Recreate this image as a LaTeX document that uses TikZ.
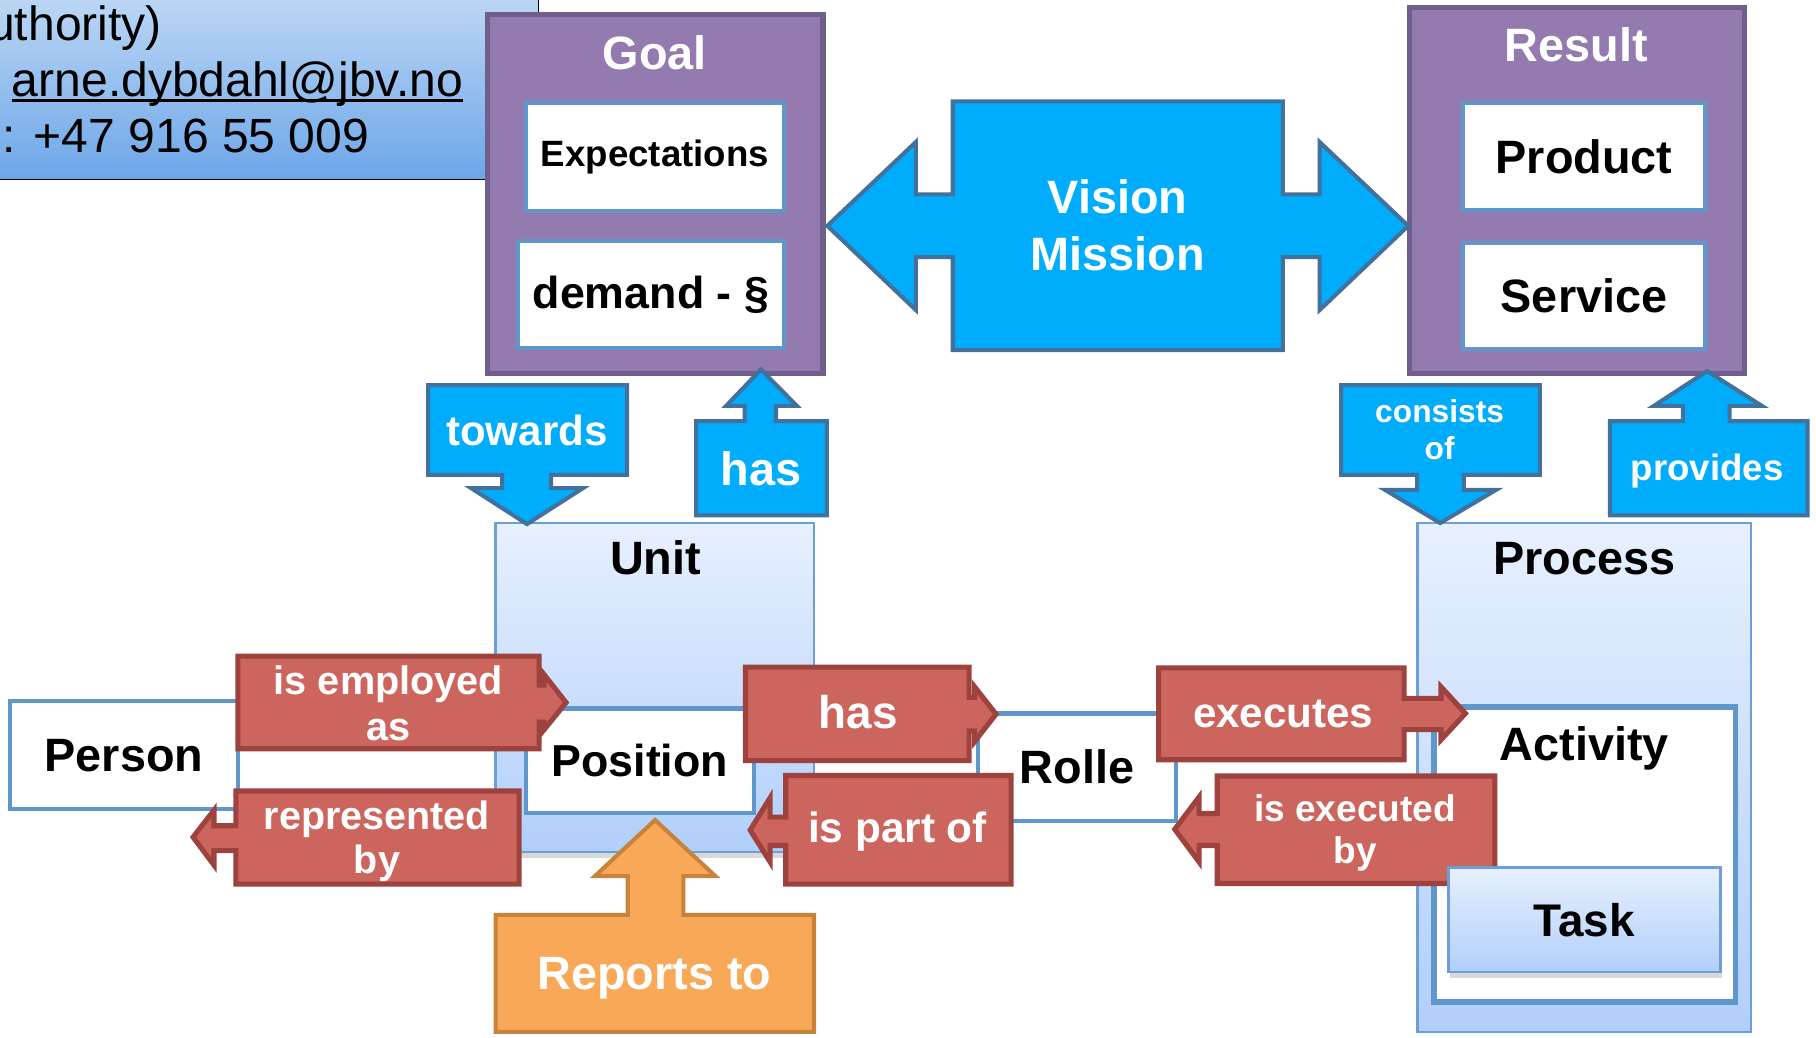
\documentclass[tikz,border=0pt]{standalone}
\usepackage{fontspec}
\setmainfont{Liberation Sans}
\usetikzlibrary{shadows}

\definecolor{infotop}{RGB}{192,217,245}
\definecolor{infobot}{RGB}{108,166,232}
\definecolor{goalfill}{RGB}{147,123,176}
\definecolor{goalborder}{RGB}{112,94,140}
\definecolor{boxborder}{RGB}{95,150,204}
\definecolor{lighttop}{RGB}{231,240,254}
\definecolor{lightbot}{RGB}{177,207,251}
\definecolor{lightborder}{RGB}{110,158,214}
\definecolor{cyanfill}{RGB}{0,172,252}
\definecolor{cyanborder}{RGB}{65,113,156}
\definecolor{redfill}{RGB}{205,101,95}
\definecolor{redborder}{RGB}{158,66,62}
\definecolor{orangefill}{RGB}{249,168,87}
\definecolor{orangeborder}{RGB}{199,130,62}

\tikzset{
	every node/.style={
		inner sep=0pt,
		font=\bfseries\fontsize{23}{28}\selectfont
	},
	infotext/.style={
		font=\fontsize{23.6}{28}\selectfont
	},
	purplebox/.style={
		draw=goalborder,
		fill=goalfill,
		line width=2.5pt
	},
	whitebox/.style={
		draw=boxborder,
		fill=white,
		line width=2pt
	},
	lightbox/.style={
		draw=lightborder,
		top color=lighttop,
		bottom color=lightbot,
		line width=1.2pt
	},
	bluearrow/.style={
		draw=cyanborder,
		fill=cyanfill,
		line width=2pt
	},
	redarrow/.style={
		draw=redborder,
		fill=redfill,
		line width=2.5pt
	},
	orangearrow/.style={
		draw=orangeborder,
		fill=orangefill,
		line width=2pt
	},
	whitelabel/.style={
		text=white,
		align=center
	}
}

\begin{document}
\begin{tikzpicture}[x=0.02cm, y=-0.02cm]
	\useasboundingbox (0,0) rectangle (1568,896);
	\clip (0,0) rectangle (1568,896);
	
	% contact box
	\shade[top color=infotop, bottom color=infobot] (-10,-10) rectangle (465,155);
	\draw[black, line width=0.8pt] (-10,155) -- (465,155) -- (465,-10);
	\node[infotext, anchor=base east] (authority) at (140,35) {uthority)};
	\node[infotext, anchor=base west] (email) at (10,83.2) {arne.dybdahl@jbv.no};
	\draw[line width=1.1pt] ([yshift=-2pt]email.base west) -- ([yshift=-2pt]email.base east);
	\node[infotext, anchor=base west] (phone) at (-21,131.4) {n: +47 916 55 009};
	
	% goal
	\node[purplebox, minimum width=5.80cm, minimum height=6.21cm] (goal) at (565.6,167.5) {};
	\node[whitelabel, anchor=base] (goallabel) at (565.5,59.8) {Goal};
	\node[whitebox, minimum width=4.46cm, minimum height=1.86cm, font=\bfseries\fontsize{18}{22}\selectfont] (expect) at (565.5,135.5) {Expectations};
	\node[whitebox, minimum width=4.60cm, minimum height=1.85cm, font=\bfseries\fontsize{22}{26}\selectfont] (demand) at (562,254.3) {demand - §};
	
	% result
	\node[purplebox, minimum width=5.78cm, minimum height=6.32cm] (result) at (1361.5,164.5) {};
	\node[whitelabel, anchor=base] (resultlabel) at (1361,53.4) {Result};
	\node[whitebox, minimum width=4.19cm, minimum height=1.84cm] (product) at (1367.7,135) {Product};
	\node[whitebox, minimum width=4.19cm, minimum height=1.84cm] (service) at (1367.7,255.5) {Service};
	
	% vision and mission, pointing both ways
	\draw[bluearrow] (822.6,87.6) -- (1107.6,87.6) -- (1107.6,167.9) -- (1139.4,167.9) -- (1139.4,122.6)
		-- (1215.9,195) -- (1139.4,267.7) -- (1139.4,222) -- (1107.6,222) -- (1107.6,302.2)
		-- (822.6,302.2) -- (822.6,222) -- (790.8,222) -- (790.8,267.7) -- (714.3,195)
		-- (790.8,122.6) -- (790.8,167.9) -- (822.6,167.9) -- cycle;
	\node[whitelabel, font=\bfseries\fontsize{23}{27.9}\selectfont] (vision) at (965,194.5) {Vision\\Mission};
	
	% unit and process
	\node[lightbox, drop shadow={shadow xshift=0pt, shadow yshift=-3pt, opacity=.3}, minimum width=5.50cm, minimum height=5.69cm] (unit) at (565.4,593.6) {};
	\node[anchor=base] (unitlabel) at (566,496) {Unit};
	\node[whitebox, minimum width=3.94cm, minimum height=1.86cm] (person) at (107,652) {Person};
	\node[whitebox, minimum width=3.93cm, minimum height=1.80cm, font=\bfseries\fontsize{22}{26}\selectfont] (position) at (552.4,656.7) {Position};
	\node[whitebox, minimum width=3.42cm, minimum height=1.85cm] (rolle) at (930,662.3) {Rolle};
	\node[lightbox, minimum width=5.76cm, minimum height=8.79cm] (process) at (1368,671.2) {};
	\node[anchor=base] (processlabel) at (1368,496) {Process};
	\node[whitebox, line width=2.8pt, minimum width=5.21cm, minimum height=5.10cm] (activity) at (1368.3,737.9) {};
	\node[anchor=base] (activitylabel) at (1368,656.7) {Activity};
	
	% blue arrows
	\draw[bluearrow] (369.6,332.5) -- (541.5,332.5) -- (541.5,410) -- (475.8,410) -- (475.8,421.4) -- (503.5,421.4)
		-- (455,452.5) -- (406.7,421.4) -- (433.5,421.4) -- (433.5,410) -- (369.6,410) -- cycle;
	\node[whitelabel, anchor=base, font=\bfseries\fontsize{20.7}{25}\selectfont] (towards) at (455,385) {towards};
	\draw[bluearrow] (601,445) -- (714,445) -- (714,363.6) -- (670,363.6) -- (670,350.4) -- (688,350.4)
		-- (657,319) -- (627,350.4) -- (643,350.4) -- (643,363.6) -- (601,363.6) -- cycle;
	\node[whitelabel, anchor=base] (hasgoal) at (657,419) {has};
	\draw[bluearrow] (1158,332.5) -- (1329.5,332.5) -- (1329.5,410) -- (1263.9,410) -- (1263.9,423) -- (1291.7,423)
		-- (1243.5,451.6) -- (1195.9,423) -- (1223.6,423) -- (1223.6,410) -- (1158,410) -- cycle;
	\node[whitelabel, font=\bfseries\fontsize{15.6}{18.2}\selectfont] (consists) at (1243,371.2) {consists\\of};
	\draw[bluearrow] (1390,445) -- (1560.7,445) -- (1560.7,363.6) -- (1493.4,363.6) -- (1493.4,350.4) -- (1521.2,350.4)
		-- (1474,320.4) -- (1428,350.4) -- (1453,350.4) -- (1453,363.6) -- (1390,363.6) -- cycle;
	\node[whitelabel, anchor=base, font=\bfseries\fontsize{18}{22}\selectfont] (provides) at (1474,414.5) {provides};
	
	% red arrows
	\draw[redarrow] (205.4,566.5) -- (465.5,566.5) -- (465.5,591.5) -- (469.8,591.5) -- (469.8,582.5)
		-- (488.8,606.6) -- (469.8,630) -- (469.8,623.5) -- (465.5,623.5) -- (465.5,646.5) -- (205.4,646.5) -- cycle;
	\node[whitelabel, font=\bfseries\fontsize{19.5}{22.2}\selectfont] (employed) at (335.5,607.2) {is employed\\as};
	\draw[redarrow] (448.2,683) -- (203.6,683) -- (203.6,713) -- (184.8,713) -- (184.8,699.5)
		-- (166.7,722.8) -- (184.8,747) -- (184.8,734.4) -- (203.6,734.4) -- (203.6,763.4) -- (448.2,763.4) -- cycle;
	\node[whitelabel, font=\bfseries\fontsize{19.4}{21.9}\selectfont] (represented) at (325.5,726.5) {represented\\by};
	\draw[redarrow] (643.7,576) -- (836.8,576) -- (836.8,602) -- (841.5,602) -- (841.5,593)
		-- (860,616.6) -- (841.5,640.3) -- (841.5,631) -- (836.8,631) -- (836.8,656.7) -- (643.7,656.7) -- cycle;
	\node[whitelabel, anchor=base, font=\bfseries\fontsize{22.5}{26}\selectfont] (hasrole) at (741,629.4) {has};
	\draw[redarrow] (873,669.6) -- (678.4,669.6) -- (678.4,705.5) -- (665,705.5) -- (665,688.7)
		-- (647.7,716.7) -- (665,744.4) -- (665,730) -- (678.4,730) -- (678.4,763.4) -- (873,763.4) -- cycle;
	\node[whitelabel, anchor=base, font=\bfseries\fontsize{20.8}{25}\selectfont] (partof) at (775,727.2) {is part of};
	\draw[redarrow] (1000.4,576.6) -- (1212.4,576.6) -- (1212.4,603) -- (1244.2,603) -- (1244.2,593)
		-- (1265.3,616) -- (1244.2,638.8) -- (1244.2,630) -- (1212.4,630) -- (1212.4,656) -- (1000.4,656) -- cycle;
	\node[whitelabel, anchor=base, font=\bfseries\fontsize{20.7}{25}\selectfont] (executes) at (1108,628.2) {executes};
	\draw[redarrow] (1290.7,670) -- (1051,670) -- (1051,702.4) -- (1035.4,702.4) -- (1035.4,688)
		-- (1014.3,716) -- (1035.4,744.4) -- (1035.4,730) -- (1051,730) -- (1051,762.8) -- (1290.7,762.8) -- cycle;
	\node[whitelabel, font=\bfseries\fontsize{18.2}{20.8}\selectfont] (executedby) at (1170,719.4) {is executed\\by};
	
	% reports to
	\draw[orangearrow] (428,891) -- (702.8,891) -- (702.8,790) -- (590,790) -- (590,756.5) -- (617.7,756.5)
		-- (565.6,708) -- (513.6,756.5) -- (542,756.5) -- (542,790) -- (428,790) -- cycle;
	\node[whitelabel, anchor=base] (reports) at (565,854) {Reports to};
	
	% task
	\node[lightbox, drop shadow={shadow xshift=1pt, shadow yshift=-3pt, opacity=.3}, minimum width=4.70cm, minimum height=1.81cm, font=\bfseries\fontsize{22.5}{26}\selectfont] (task) at (1368,794.2) {Task};
\end{tikzpicture}
\end{document}
